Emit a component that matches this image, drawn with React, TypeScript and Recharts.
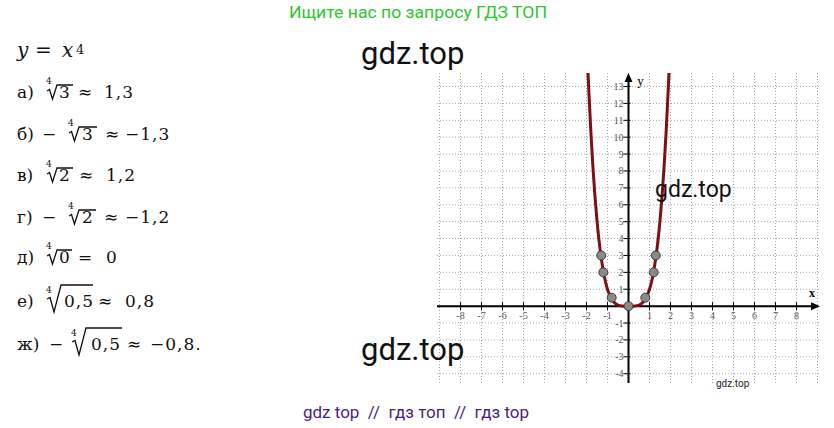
import React from "react";
import {
  ComposedChart,
  Line,
  Scatter,
  XAxis,
  YAxis,
  ReferenceLine,
  ReferenceDot,
} from "recharts";

// y = x^4
const curveX = [-1.94, -1.9, -1.8, -1.7, -1.6, -1.5, -1.4, -1.3, -1.2, -1.1, -1.0, -0.9, -0.8, -0.7, -0.6, -0.5, -0.4, -0.3, -0.2, -0.1, 0, 0.1, 0.2, 0.3, 0.4, 0.5, 0.6, 0.7, 0.8, 0.9, 1.0, 1.1, 1.2, 1.3, 1.4, 1.5, 1.6, 1.7, 1.8, 1.9, 1.94];
const curveY = [14.16, 13.03, 10.5, 8.35, 6.55, 5.06, 3.84, 2.86, 2.07, 1.46, 1.0, 0.66, 0.41, 0.24, 0.13, 0.06, 0.03, 0.01, 0.0, 0.0, 0, 0.0, 0.0, 0.01, 0.03, 0.06, 0.13, 0.24, 0.41, 0.66, 1.0, 1.46, 2.07, 2.86, 3.84, 5.06, 6.55, 8.35, 10.5, 13.03, 14.16];

// marked points
const pointX = [-1.3, -1.2, -0.8, 0, 0.8, 1.2, 1.3];
const pointY = [3, 2, 0.5, 0, 0.5, 2, 3];

const gridX = [-9, -8, -7, -6, -5, -4, -3, -2, -1, 0, 1, 2, 3, 4, 5, 6, 7, 8, 9];
const gridY = [-4, -3, -2, -1, 0, 1, 2, 3, 4, 5, 6, 7, 8, 9, 10, 11, 12, 13];
const xLabels = [-8, -7, -6, -5, -4, -3, -2, -1, 1, 2, 3, 4, 5, 6, 7, 8];
const yLabels = [-4, -3, -2, -1, 1, 2, 3, 4, 5, 6, 7, 8, 9, 10, 11, 12, 13];

const curveData = curveX.map((x, i) => ({ x, y: curveY[i] }));
const pointData = pointX.map((x, i) => ({ x, y: pointY[i] }));

const tickFont = { fontFamily: "'Liberation Serif', serif", fontSize: 10, fill: "#555" };
const gridStroke = "#a4a4b4";

function XAxisShape(p: any) {
  const x1 = Math.min(p.x1, p.x2);
  const x2 = Math.max(p.x1, p.x2);
  const y = p.y1;
  return (
    <g>
      <line x1={x1} y1={y} x2={x2 - 4} y2={y} stroke="#000" strokeWidth={2} />
      <path d={`M${x2},${y} L${x2 - 9},${y - 4} L${x2 - 9},${y + 4} Z`} fill="#000" />
      <text x={x2 - 8} y={y - 9} textAnchor="middle" fontFamily="'Liberation Serif', serif" fontWeight="bold" fontSize={12}>
        x
      </text>
    </g>
  );
}

function YAxisShape(p: any) {
  const top = Math.min(p.y1, p.y2);
  const bottom = Math.max(p.y1, p.y2);
  const x = p.x1;
  return (
    <g>
      <line x1={x} y1={bottom} x2={x} y2={top + 4} stroke="#000" strokeWidth={2} />
      <path d={`M${x},${top} L${x - 4},${top + 9} L${x + 4},${top + 9} Z`} fill="#000" />
      <text x={x + 12} y={top + 12} textAnchor="middle" fontFamily="'Liberation Serif', serif" fontSize={13}>
        y
      </text>
    </g>
  );
}

function XTick({ cx, cy, label }: any) {
  return (
    <g>
      <line x1={cx} y1={cy - 4} x2={cx} y2={cy + 4} stroke="#000" strokeWidth={1} />
      <text x={cx} y={cy + 13} textAnchor="middle" {...tickFont}>
        {label}
      </text>
    </g>
  );
}

function YTick({ cx, cy, label }: any) {
  return (
    <g>
      <line x1={cx - 5} y1={cy} x2={cx + 2} y2={cy} stroke="#000" strokeWidth={1} />
      <text x={cx - 5} y={cy + 3.5} textAnchor="end" {...tickFont}>
        {label}
      </text>
    </g>
  );
}

function PointDot({ cx, cy }: any) {
  return <circle cx={cx} cy={cy} r={4.5} fill="#8a8a8a" stroke="#3c3c3c" strokeWidth={1} />;
}

// left-hand worked answers
type Piece = { x: number; t: string; italic?: boolean; size?: number; dy?: number; ls?: number };
type RootMark = { x0: number; end: number; top: number; tall?: boolean };
type MathLine = { base: number; pieces: Piece[]; roots: RootMark[] };

const mathLines: MathLine[] = [
  {
    base: 57,
    pieces: [
      { x: 17, t: "y", italic: true, size: 20 },
      { x: 35, t: "=", size: 20 },
      { x: 62, t: "x", italic: true, size: 20 },
      { x: 76, t: "4", size: 13, dy: -3 },
    ],
    roots: [],
  },
  {
    base: 98,
    pieces: [{ x: 17, t: "а)" }, { x: 59, t: "3" }, { x: 78, t: "≈" }, { x: 104, t: "1,3", ls: 1 }],
    roots: [{ x0: 47, end: 73, top: 85 }],
  },
  {
    base: 140,
    pieces: [{ x: 17, t: "б)" }, { x: 42, t: "−" }, { x: 82, t: "3" }, { x: 105, t: "≈" }, { x: 125, t: "−1,3", ls: 1 }],
    roots: [{ x0: 69, end: 97, top: 127 }],
  },
  {
    base: 181,
    pieces: [{ x: 17, t: "в)" }, { x: 59, t: "2" }, { x: 79, t: "≈" }, { x: 106, t: "1,2", ls: 1 }],
    roots: [{ x0: 47, end: 73, top: 168 }],
  },
  {
    base: 223,
    pieces: [{ x: 17, t: "г)" }, { x: 42, t: "−" }, { x: 82, t: "2" }, { x: 104, t: "≈" }, { x: 125, t: "−1,2", ls: 1 }],
    roots: [{ x0: 69, end: 96, top: 210 }],
  },
  {
    base: 263,
    pieces: [{ x: 17, t: "д)" }, { x: 59, t: "0" }, { x: 78, t: "=" }, { x: 106, t: "0" }],
    roots: [{ x0: 47, end: 72, top: 250 }],
  },
  {
    base: 307,
    pieces: [{ x: 17, t: "е)" }, { x: 64, t: "0,5", ls: 1 }, { x: 98, t: "≈" }, { x: 125, t: "0,8", ls: 1 }],
    roots: [{ x0: 47, end: 93, top: 285, tall: true }],
  },
  {
    base: 350,
    pieces: [{ x: 17, t: "ж)" }, { x: 49, t: "−" }, { x: 91, t: "0,5", ls: 1 }, { x: 127, t: "≈" }, { x: 150, t: "−0,8.", ls: 1 }],
    roots: [{ x0: 72, end: 122, top: 328, tall: true }],
  },
];

function rootPath(r: RootMark, base: number) {
  const { x0, end, top } = r;
  if (r.tall) {
    return `M${x0},${base - 8} L${x0 + 3},${base - 9.5} L${x0 + 7},${base + 5} L${x0 + 14},${top} L${end},${top}`;
  }
  return `M${x0},${base - 7} L${x0 + 2.5},${base - 8.5} L${x0 + 5.5},${base + 1} L${x0 + 10},${top} L${end},${top}`;
}

export default function App() {
  return (
    <div style={{ position: "absolute", left: 0, top: 0, width: 834, height: 428, background: "#fff", overflow: "hidden" }}>
      <div style={{ position: "absolute", left: 437, top: 73 }}>
        <ComposedChart width={383} height={310} margin={{ top: 0, right: 0, bottom: 0, left: 0 }}>
          <XAxis
            type="number"
            dataKey="x"
            domain={[-9.12, 9.12]}
            ticks={gridX}
            allowDataOverflow
            axisLine={false}
            tickLine={false}
            tick={false}
            height={0}
          />
          <YAxis
            type="number"
            dataKey="y"
            domain={[-4.55, 13.8]}
            ticks={gridY}
            allowDataOverflow
            axisLine={false}
            tickLine={false}
            tick={false}
            width={0}
          />
          {/* dotted grid */}
          {gridX.map((v) => (
            <ReferenceLine key={"gx" + v} x={v} stroke={gridStroke} strokeDasharray="1 2" />
          ))}
          {gridY.map((v) => (
            <ReferenceLine key={"gy" + v} y={v} stroke={gridStroke} strokeDasharray="1 2" />
          ))}
          <ReferenceLine y={0} ifOverflow="visible" shape={XAxisShape} />
          <ReferenceLine x={0} ifOverflow="visible" shape={YAxisShape} />
          {xLabels.map((v) => (
            <ReferenceDot key={"x" + v} x={v} y={0} r={0} ifOverflow="visible" shape={(p: any) => <XTick {...p} label={v} />} />
          ))}
          {yLabels.map((v) => (
            <ReferenceDot key={"y" + v} x={0} y={v} r={0} ifOverflow="visible" shape={(p: any) => <YTick {...p} label={v} />} />
          ))}
          <Line
            data={curveData}
            dataKey="y"
            type="monotone"
            stroke="#7f0f14"
            strokeWidth={3}
            dot={false}
            isAnimationActive={false}
          />
          <Scatter data={pointData} dataKey="y" shape={PointDot} isAnimationActive={false} />
        </ComposedChart>
      </div>

      <svg width={834} height={428} style={{ position: "absolute", left: 0, top: 0, pointerEvents: "none" }}>
        <g fontFamily="'DejaVu Serif', serif" fontSize={17} fill="#111">
          {mathLines.map((l, i) => (
            <g key={i}>
              {l.pieces.map((p, j) => (
                <text
                  key={j}
                  x={p.x}
                  y={l.base + (p.dy ?? 0)}
                  fontStyle={p.italic ? "italic" : undefined}
                  fontSize={p.size}
                  letterSpacing={p.ls}
                  style={{ whiteSpace: "pre" }}
                >
                  {p.t}
                </text>
              ))}
              {l.roots.map((r, j) => (
                <g key={"r" + j}>
                  <path d={rootPath(r, l.base)} stroke="#111" strokeWidth={1.3} fill="none" />
                  <text x={r.x0 - 1} y={r.tall ? r.top + 8 : r.top - 1} fontSize={9}>
                    4
                  </text>
                </g>
              ))}
            </g>
          ))}
        </g>

        <text x={418} y={18} textAnchor="middle" fontFamily="Roboto, sans-serif" fontSize={17} fill="#2dc52d" textLength={258} lengthAdjust="spacingAndGlyphs">
          Ищите нас по запросу ГДЗ ТОП
        </text>
        <text x={361} y={64} fontFamily="Roboto, sans-serif" fontSize={31} fill="#111">gdz.top</text>
        <text x={655} y={197} fontFamily="Roboto, sans-serif" fontSize={23} fill="#111">gdz.top</text>
        <text x={361} y={360} fontFamily="Roboto, sans-serif" fontSize={31} fill="#111">gdz.top</text>
        <text x={716} y={387} fontFamily="Roboto, sans-serif" fontSize={10} fill="#222">gdz.top</text>
        <text x={416} y={418} textAnchor="middle" fontFamily="Roboto, sans-serif" fontSize={17} fill="#4b1f7e" style={{ whiteSpace: "pre" }}>
          {"gdz top  //  гдз топ  //  гдз top"}
        </text>
      </svg>
    </div>
  );
}
